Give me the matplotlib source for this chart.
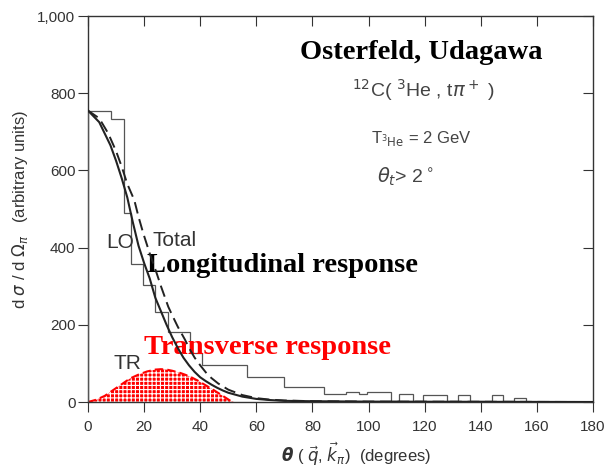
import numpy as np
import matplotlib.pyplot as plt

plt.rcParams['font.family'] = ['Liberation Sans', 'DejaVu Sans']
plt.rcParams['hatch.linewidth'] = 0.8

# histogram (data), degrees / arbitrary units
hist_edges = [0, 8.2, 12.8, 15.5, 19.7, 23.9, 28.6, 36.4, 40.5, 56.5, 70, 84, 92,
              96.6, 99.5, 108, 110.8, 116, 119.5, 127.8, 132, 136, 144, 147.8,
              151.8, 156, 180]
hist_vals = [755, 732, 490, 357, 303, 234, 182, 127, 96, 65, 40, 21, 26, 21, 26,
             3, 21, 2, 17, 2, 18, 2, 18, 2, 11, 1]

# LO (solid)
lo_x = [0, 4, 8, 10, 12, 14, 16, 18, 20, 22, 24, 26, 28, 30, 32, 34, 36, 38, 40,
        42, 44, 46, 48, 50, 55, 60, 65, 70, 80, 100, 180]
lo_y = [755, 725, 665, 625, 580, 530, 465, 405, 360, 320, 270, 235, 200, 168, 140,
        115, 95, 78, 64, 54, 45, 37, 30, 24, 14, 8, 5, 3, 2, 1, 0]

# Total (dashed)
tot_x = [0, 4, 7.2, 10, 12, 14, 16.5, 18, 19.7, 22, 24.5, 26, 28.6, 30, 32, 34.6,
         36, 38, 40, 42.3, 44, 46.4, 50, 55, 60, 65, 70, 80, 100, 180]
tot_y = [755, 735, 696, 650, 610, 565, 523, 480, 437, 385, 333, 300, 247, 225, 195,
         161, 140, 115, 95, 74, 62, 48, 32, 18, 10, 6, 4, 2, 1, 0]

# TR (filled)
tr_x = [0, 3, 6, 9, 12, 15, 18, 21, 24, 26, 28, 30, 33, 36, 39, 42, 45, 48, 51, 52]
tr_y = [0, 6, 16, 31, 46, 61, 71, 79, 84, 85, 84, 81, 75, 67, 56, 43, 30, 16, 2, 0]

fig = plt.figure(figsize=(6.04, 4.71), dpi=100)
ax = fig.add_axes([88 / 604, 1 - 402 / 471, 505 / 604, 386 / 471])

ax.fill_between(tr_x, tr_y, 0, facecolor='red', edgecolor='white', hatch='++++',
                linewidth=0, zorder=1)
ax.plot(tr_x, tr_y, color='red', lw=1.5, ls=(0, (4, 2)), zorder=2)

ax.stairs(hist_vals, hist_edges, color='#555555', lw=0.9, zorder=3)
ax.plot(lo_x, lo_y, color='#222222', lw=1.5, zorder=4)
ax.plot(tot_x, tot_y, color='#222222', lw=1.4, ls=(0, (6, 3)), zorder=4)

ax.set_xlim(0, 180)
ax.set_ylim(0, 1000)
ax.set_xticks(np.arange(0, 181, 20))
ax.set_yticks(np.arange(0, 1001, 200))
ax.set_yticklabels(['0', '200', '400', '600', '800', '1,000'])
ax.tick_params(axis='both', labelsize=11, colors='#333333', length=7)
ax.tick_params(axis='x', pad=6)
ax.tick_params(axis='y', pad=2)
ax.tick_params(top=True, right=True, direction='out')
# top/right ticks point inward
for t in ax.xaxis.get_major_ticks():
    t.tick2line.set_marker(3)
for t in ax.yaxis.get_major_ticks():
    t.tick2line.set_marker(0)
for s in ax.spines.values():
    s.set_color('#333333')
    s.set_linewidth(1.0)

ax.set_ylabel(r'd $\sigma$ / d $\Omega_\pi$   (arbitrary units)', fontsize=12,
              color='#333333')
ax.yaxis.set_label_coords(-0.115, 0.5)
ax.set_xlabel(r'$\boldsymbol{\theta}$ ( $\vec{q}$, $\vec{k}_\pi$)  (degrees)', fontsize=12,
              color='#333333')
ax.xaxis.set_label_coords(0.53, -0.1)

ax.text(75.5, 889, 'Osterfeld, Udagawa', fontsize=20.5, fontweight='bold',
        family='Liberation Serif', color='black')
ax.text(94, 790, r'$^{12}$C( $^3$He , t$\pi^+$ )', fontsize=14, color='#444444')
ax.text(101, 670, r'T$_{^3\mathrm{He}}$ = 2 GeV', fontsize=12, color='#444444')
ax.text(103, 568, r'$\theta_t$> 2$^\circ$', fontsize=14, color='#444444')

ax.text(6.5, 400, 'LO', fontsize=15, color='#333333')
ax.text(23, 405, 'Total', fontsize=15, color='#333333')
ax.text(9, 85, 'TR', fontsize=15, color='#333333')

ax.text(21, 337, 'Longitudinal response', fontsize=20.5, fontweight='bold',
        family='Liberation Serif', color='black')
ax.text(20, 125, 'Transverse response', fontsize=20.5, fontweight='bold',
        family='Liberation Serif', color='red')

fig.savefig('out.png', dpi=100)
